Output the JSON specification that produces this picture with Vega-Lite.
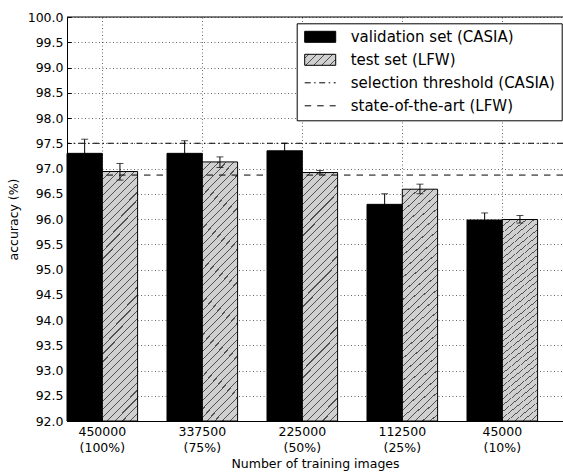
{
  "$schema": "https://vega.github.io/schema/vega-lite/v6.json",
  "width": 496,
  "height": 404,
  "autosize": {"type": "none"},
  "padding": {"left": 67, "top": 17, "right": 0, "bottom": 51},
  "background": "white",
  "config": {
    "font": "DejaVu Sans",
    "view": {"stroke": null},
    "axisY": {
      "labelOverlap": false, "labelFontSize": 12.5, "format": ".1f", "labelColor": "black", "labelPadding": 8,
      "domainColor": "black", "tickColor": "black", "tickSize": -4,
      "grid": true, "gridColor": "black", "gridWidth": 0.6, "gridDash": [1, 2.5], "gridOpacity": 1,
      "titleFontSize": 12.5, "titleFontWeight": "normal", "titleColor": "black", "titlePadding": 7,
      "zindex": 1
    }
  },
  "datasets": {
    "bars": [
      {"group": "450000|(100%)", "series": "validation set (CASIA)", "value": 97.30, "lo": 97.02, "hi": 97.58},
      {"group": "450000|(100%)", "series": "test set (LFW)", "value": 96.94, "lo": 96.77, "hi": 97.10},
      {"group": "337500|(75%)", "series": "validation set (CASIA)", "value": 97.30, "lo": 97.05, "hi": 97.55},
      {"group": "337500|(75%)", "series": "test set (LFW)", "value": 97.13, "lo": 97.02, "hi": 97.23},
      {"group": "225000|(50%)", "series": "validation set (CASIA)", "value": 97.35, "lo": 97.20, "hi": 97.50},
      {"group": "225000|(50%)", "series": "test set (LFW)", "value": 96.92, "lo": 96.89, "hi": 96.96},
      {"group": "112500|(25%)", "series": "validation set (CASIA)", "value": 96.29, "lo": 96.08, "hi": 96.50},
      {"group": "112500|(25%)", "series": "test set (LFW)", "value": 96.59, "lo": 96.50, "hi": 96.69},
      {"group": "45000|(10%)", "series": "validation set (CASIA)", "value": 95.98, "lo": 95.84, "hi": 96.12},
      {"group": "45000|(10%)", "series": "test set (LFW)", "value": 95.99, "lo": 95.92, "hi": 96.07}
    ],
    "lines": [
      {"series": "selection threshold (CASIA)", "value": 97.5},
      {"series": "state-of-the-art (LFW)", "value": 96.87}
    ],
    "frame": [{"value": 100}]
  },
  "layer": [
    {
      "data": {"name": "bars"},
      "encoding": {
        "x": {
          "field": "group", "type": "nominal", "sort": null, "title": "Number of training images",
          "scale": {"paddingInner": 0.294, "paddingOuter": 0.127, "align": 0},
          "axis": {
            "labelExpr": "split(datum.label, '|')",
            "labelAngle": 0, "labelFontSize": 12.5, "labelColor": "black", "labelLineHeight": 16.5, "labelPadding": 8,
            "labelOverlap": false,
            "domainColor": "black", "tickColor": "black", "tickSize": -4,
            "grid": true, "gridColor": "black", "gridWidth": 0.6, "gridDash": [1, 2.5], "gridOpacity": 1,
            "titleFontSize": 12.5, "titleFontWeight": "normal", "titleColor": "black", "titlePadding": 3,
            "zindex": 1
          }
        },
        "xOffset": {
          "field": "series", "type": "nominal", "sort": null,
          "scale": {"domain": ["validation set (CASIA)", "test set (LFW)"], "paddingInner": 0, "paddingOuter": 0}
        }
      },
      "layer": [
        {
          "mark": {"type": "bar", "stroke": "black", "strokeWidth": 1},
          "encoding": {
            "y": {
              "field": "value", "type": "quantitative", "title": "accuracy (%)",
              "scale": {"domain": [92, 100], "zero": false, "nice": false},
              "axis": {"values": [92, 92.5, 93, 93.5, 94, 94.5, 95, 95.5, 96, 96.5, 97, 97.5, 98, 98.5, 99, 99.5, 100]}
            },
            "y2": {"datum": 92},
            "fill": {
              "condition": {
                "test": "datum.series === 'test set (LFW)'",
                "value": {
                  "gradient": "linear", "x1": 0, "y1": 0, "x2": 0.16, "y2": 1.12,
                  "stops": [
                    {"offset": 0, "color": "#505050"}, {"offset": 0.004, "color": "#505050"}, {"offset": 0.004, "color": "#d0d0d0"}, {"offset": 0.0278, "color": "#d0d0d0"},
                    {"offset": 0.0278, "color": "#505050"}, {"offset": 0.0318, "color": "#505050"}, {"offset": 0.0318, "color": "#d0d0d0"}, {"offset": 0.0556, "color": "#d0d0d0"},
                    {"offset": 0.0556, "color": "#505050"}, {"offset": 0.0596, "color": "#505050"}, {"offset": 0.0596, "color": "#d0d0d0"}, {"offset": 0.0833, "color": "#d0d0d0"},
                    {"offset": 0.0833, "color": "#505050"}, {"offset": 0.0873, "color": "#505050"}, {"offset": 0.0873, "color": "#d0d0d0"}, {"offset": 0.1111, "color": "#d0d0d0"},
                    {"offset": 0.1111, "color": "#505050"}, {"offset": 0.1151, "color": "#505050"}, {"offset": 0.1151, "color": "#d0d0d0"}, {"offset": 0.1389, "color": "#d0d0d0"},
                    {"offset": 0.1389, "color": "#505050"}, {"offset": 0.1429, "color": "#505050"}, {"offset": 0.1429, "color": "#d0d0d0"}, {"offset": 0.1667, "color": "#d0d0d0"},
                    {"offset": 0.1667, "color": "#505050"}, {"offset": 0.1707, "color": "#505050"}, {"offset": 0.1707, "color": "#d0d0d0"}, {"offset": 0.1944, "color": "#d0d0d0"},
                    {"offset": 0.1944, "color": "#505050"}, {"offset": 0.1984, "color": "#505050"}, {"offset": 0.1984, "color": "#d0d0d0"}, {"offset": 0.2222, "color": "#d0d0d0"},
                    {"offset": 0.2222, "color": "#505050"}, {"offset": 0.2262, "color": "#505050"}, {"offset": 0.2262, "color": "#d0d0d0"}, {"offset": 0.25, "color": "#d0d0d0"},
                    {"offset": 0.25, "color": "#505050"}, {"offset": 0.254, "color": "#505050"}, {"offset": 0.254, "color": "#d0d0d0"}, {"offset": 0.2778, "color": "#d0d0d0"},
                    {"offset": 0.2778, "color": "#505050"}, {"offset": 0.2818, "color": "#505050"}, {"offset": 0.2818, "color": "#d0d0d0"}, {"offset": 0.3056, "color": "#d0d0d0"},
                    {"offset": 0.3056, "color": "#505050"}, {"offset": 0.3096, "color": "#505050"}, {"offset": 0.3096, "color": "#d0d0d0"}, {"offset": 0.3333, "color": "#d0d0d0"},
                    {"offset": 0.3333, "color": "#505050"}, {"offset": 0.3373, "color": "#505050"}, {"offset": 0.3373, "color": "#d0d0d0"}, {"offset": 0.3611, "color": "#d0d0d0"},
                    {"offset": 0.3611, "color": "#505050"}, {"offset": 0.3651, "color": "#505050"}, {"offset": 0.3651, "color": "#d0d0d0"}, {"offset": 0.3889, "color": "#d0d0d0"},
                    {"offset": 0.3889, "color": "#505050"}, {"offset": 0.3929, "color": "#505050"}, {"offset": 0.3929, "color": "#d0d0d0"}, {"offset": 0.4167, "color": "#d0d0d0"},
                    {"offset": 0.4167, "color": "#505050"}, {"offset": 0.4207, "color": "#505050"}, {"offset": 0.4207, "color": "#d0d0d0"}, {"offset": 0.4444, "color": "#d0d0d0"},
                    {"offset": 0.4444, "color": "#505050"}, {"offset": 0.4484, "color": "#505050"}, {"offset": 0.4484, "color": "#d0d0d0"}, {"offset": 0.4722, "color": "#d0d0d0"},
                    {"offset": 0.4722, "color": "#505050"}, {"offset": 0.4762, "color": "#505050"}, {"offset": 0.4762, "color": "#d0d0d0"}, {"offset": 0.5, "color": "#d0d0d0"},
                    {"offset": 0.5, "color": "#505050"}, {"offset": 0.504, "color": "#505050"}, {"offset": 0.504, "color": "#d0d0d0"}, {"offset": 0.5278, "color": "#d0d0d0"},
                    {"offset": 0.5278, "color": "#505050"}, {"offset": 0.5318, "color": "#505050"}, {"offset": 0.5318, "color": "#d0d0d0"}, {"offset": 0.5556, "color": "#d0d0d0"},
                    {"offset": 0.5556, "color": "#505050"}, {"offset": 0.5596, "color": "#505050"}, {"offset": 0.5596, "color": "#d0d0d0"}, {"offset": 0.5833, "color": "#d0d0d0"},
                    {"offset": 0.5833, "color": "#505050"}, {"offset": 0.5873, "color": "#505050"}, {"offset": 0.5873, "color": "#d0d0d0"}, {"offset": 0.6111, "color": "#d0d0d0"},
                    {"offset": 0.6111, "color": "#505050"}, {"offset": 0.6151, "color": "#505050"}, {"offset": 0.6151, "color": "#d0d0d0"}, {"offset": 0.6389, "color": "#d0d0d0"},
                    {"offset": 0.6389, "color": "#505050"}, {"offset": 0.6429, "color": "#505050"}, {"offset": 0.6429, "color": "#d0d0d0"}, {"offset": 0.6667, "color": "#d0d0d0"},
                    {"offset": 0.6667, "color": "#505050"}, {"offset": 0.6707, "color": "#505050"}, {"offset": 0.6707, "color": "#d0d0d0"}, {"offset": 0.6944, "color": "#d0d0d0"},
                    {"offset": 0.6944, "color": "#505050"}, {"offset": 0.6984, "color": "#505050"}, {"offset": 0.6984, "color": "#d0d0d0"}, {"offset": 0.7222, "color": "#d0d0d0"},
                    {"offset": 0.7222, "color": "#505050"}, {"offset": 0.7262, "color": "#505050"}, {"offset": 0.7262, "color": "#d0d0d0"}, {"offset": 0.75, "color": "#d0d0d0"},
                    {"offset": 0.75, "color": "#505050"}, {"offset": 0.754, "color": "#505050"}, {"offset": 0.754, "color": "#d0d0d0"}, {"offset": 0.7778, "color": "#d0d0d0"},
                    {"offset": 0.7778, "color": "#505050"}, {"offset": 0.7818, "color": "#505050"}, {"offset": 0.7818, "color": "#d0d0d0"}, {"offset": 0.8056, "color": "#d0d0d0"},
                    {"offset": 0.8056, "color": "#505050"}, {"offset": 0.8096, "color": "#505050"}, {"offset": 0.8096, "color": "#d0d0d0"}, {"offset": 0.8333, "color": "#d0d0d0"},
                    {"offset": 0.8333, "color": "#505050"}, {"offset": 0.8373, "color": "#505050"}, {"offset": 0.8373, "color": "#d0d0d0"}, {"offset": 0.8611, "color": "#d0d0d0"},
                    {"offset": 0.8611, "color": "#505050"}, {"offset": 0.8651, "color": "#505050"}, {"offset": 0.8651, "color": "#d0d0d0"}, {"offset": 0.8889, "color": "#d0d0d0"},
                    {"offset": 0.8889, "color": "#505050"}, {"offset": 0.8929, "color": "#505050"}, {"offset": 0.8929, "color": "#d0d0d0"}, {"offset": 0.9167, "color": "#d0d0d0"},
                    {"offset": 0.9167, "color": "#505050"}, {"offset": 0.9207, "color": "#505050"}, {"offset": 0.9207, "color": "#d0d0d0"}, {"offset": 0.9444, "color": "#d0d0d0"},
                    {"offset": 0.9444, "color": "#505050"}, {"offset": 0.9484, "color": "#505050"}, {"offset": 0.9484, "color": "#d0d0d0"}, {"offset": 0.9722, "color": "#d0d0d0"},
                    {"offset": 0.9722, "color": "#505050"}, {"offset": 0.9762, "color": "#505050"}, {"offset": 0.9762, "color": "#d0d0d0"}, {"offset": 1, "color": "#d0d0d0"}
                  ]
                }
              },
              "value": "black"
            }
          }
        },
        {
          "mark": {"type": "rule", "color": "black", "strokeWidth": 1},
          "encoding": {
            "y": {"field": "lo", "type": "quantitative", "title": "accuracy (%)", "axis": {"values": [92, 92.5, 93, 93.5, 94, 94.5, 95, 95.5, 96, 96.5, 97, 97.5, 98, 98.5, 99, 99.5, 100]}},
            "y2": {"field": "hi"}
          }
        },
        {
          "mark": {"type": "tick", "color": "black", "size": 7, "thickness": 1},
          "encoding": {"y": {"field": "lo", "type": "quantitative", "title": "accuracy (%)", "axis": {"values": [92, 92.5, 93, 93.5, 94, 94.5, 95, 95.5, 96, 96.5, 97, 97.5, 98, 98.5, 99, 99.5, 100]}}}
        },
        {
          "mark": {"type": "tick", "color": "black", "size": 7, "thickness": 1},
          "encoding": {"y": {"field": "hi", "type": "quantitative", "title": "accuracy (%)", "axis": {"values": [92, 92.5, 93, 93.5, 94, 94.5, 95, 95.5, 96, 96.5, 97, 97.5, 98, 98.5, 99, 99.5, 100]}}}
        }
      ]
    },
    {
      "data": {"name": "lines"},
      "mark": {"type": "rule", "strokeWidth": 1},
      "encoding": {
        "y": {"field": "value", "type": "quantitative", "title": "accuracy (%)", "axis": {"values": [92, 92.5, 93, 93.5, 94, 94.5, 95, 95.5, 96, 96.5, 97, 97.5, 98, 98.5, 99, 99.5, 100]}},
        "color": {
          "field": "series", "type": "nominal",
          "scale": {
            "domain": ["validation set (CASIA)", "test set (LFW)", "selection threshold (CASIA)", "state-of-the-art (LFW)"],
            "range": ["black", "black", "black", "black"]
          },
          "legend": {
            "title": null, "orient": "none", "legendX": 229.7, "legendY": 6.3,
            "fillColor": "white", "strokeColor": "black", "padding": 6, "cornerRadius": 0,
            "labelFontSize": 15, "labelColor": "black", "labelLimit": 0, "labelFont": "DejaVu Sans",
            "symbolSize": 121, "rowPadding": 7, "labelOffset": 23, "symbolOffset": 10, "zindex": 2,
            "encode": {
              "symbols": {
                "update": {
                  "shape": [
                    {"test": "datum.value === 'selection threshold (CASIA)' || datum.value === 'state-of-the-art (LFW)'", "value": "M-2.82,0H2.82"},
                    {"value": "M-2.82,-1H2.82V1H-2.82Z"}
                  ],
                  "fill": [
                    {"test": "datum.value === 'test set (LFW)'", "value": {
                      "gradient": "linear", "x1": 0, "y1": 0, "x2": 1.2033, "y2": 0.427,
                      "stops": [
                        {"offset": 0, "color": "#d0d0d0"}, {"offset": 0.08, "color": "#d0d0d0"}, {"offset": 0.08, "color": "#505050"}, {"offset": 0.105, "color": "#505050"},
                        {"offset": 0.105, "color": "#d0d0d0"}, {"offset": 0.27, "color": "#d0d0d0"}, {"offset": 0.27, "color": "#505050"}, {"offset": 0.295, "color": "#505050"},
                        {"offset": 0.295, "color": "#d0d0d0"}, {"offset": 0.46, "color": "#d0d0d0"}, {"offset": 0.46, "color": "#505050"}, {"offset": 0.485, "color": "#505050"},
                        {"offset": 0.485, "color": "#d0d0d0"}, {"offset": 0.65, "color": "#d0d0d0"}, {"offset": 0.65, "color": "#505050"}, {"offset": 0.675, "color": "#505050"},
                        {"offset": 0.675, "color": "#d0d0d0"}, {"offset": 0.84, "color": "#d0d0d0"}, {"offset": 0.84, "color": "#505050"}, {"offset": 0.865, "color": "#505050"},
                        {"offset": 0.865, "color": "#d0d0d0"}, {"offset": 1, "color": "#d0d0d0"}
                      ]
                    }},
                    {"test": "datum.value === 'validation set (CASIA)'", "value": "black"},
                    {"value": "transparent"}
                  ],
                  "stroke": {"value": "black"},
                  "strokeWidth": {"value": 1},
                  "opacity": {"value": 1},
                  "strokeDash": [
                    {"test": "datum.value === 'selection threshold (CASIA)'", "value": [6, 3.5, 1.5, 3.5]},
                    {"test": "datum.value === 'state-of-the-art (LFW)'", "value": [6.5, 6]},
                    {"value": []}
                  ]
                }
              }
            }
          }
        },
        "strokeDash": {
          "field": "series", "type": "nominal",
          "scale": {
            "domain": ["selection threshold (CASIA)", "state-of-the-art (LFW)"],
            "range": [[6, 3.5, 1.5, 3.5], [6.5, 6]]
          },
          "legend": null
        }
      }
    },
    {
      "data": {"name": "frame"},
      "mark": {"type": "rule", "color": "black", "strokeWidth": 1},
      "encoding": {"y": {"field": "value", "type": "quantitative", "title": "accuracy (%)", "axis": {"values": [92, 92.5, 93, 93.5, 94, 94.5, 95, 95.5, 96, 96.5, 97, 97.5, 98, 98.5, 99, 99.5, 100]}}}
    }
  ]
}
